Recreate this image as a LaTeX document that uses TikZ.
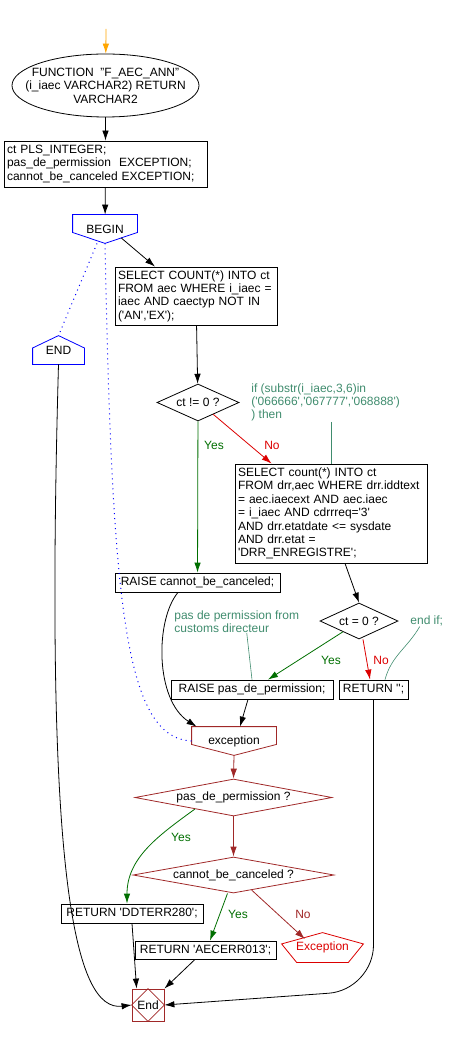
\documentclass[tikz,border=0pt]{standalone}
\usepackage{fontspec}
\setmainfont{Liberation Sans}
\usepackage{tikz}
\usetikzlibrary{shapes.geometric,arrows.meta,calc}

\definecolor{yesgreen}{RGB}{0,110,0}
\definecolor{nored}{RGB}{220,0,0}
\definecolor{exred}{RGB}{160,40,40}
\definecolor{cmtgreen}{RGB}{64,140,110}
\definecolor{startorange}{RGB}{255,165,0}
\newcommand{\q}{\textquotesingle}

% forme disegnate dopo il nodo
\tikzset{
  ovalbox/.style={draw=none, inner sep=0pt, align=center, append after command={\pgfextra{
      \draw (\tikzlastnode.center) ellipse [x radius=93.5pt, y radius=31.5pt];}}},
  pentdown/.style={draw=none, inner sep=0pt, append after command={\pgfextra{
      \draw[#1] (\tikzlastnode.north west) -- (\tikzlastnode.north east)
        -- ($(\tikzlastnode.north east)!0.62!(\tikzlastnode.south east)$)
        -- (\tikzlastnode.south)
        -- ($(\tikzlastnode.north west)!0.62!(\tikzlastnode.south west)$) -- cycle;}}},
  pentup/.style={draw=none, inner sep=0pt, append after command={\pgfextra{
      \draw[#1] (\tikzlastnode.north)
        -- ($(\tikzlastnode.north east)!0.43!(\tikzlastnode.south east)$)
        -- (\tikzlastnode.south east) -- (\tikzlastnode.south west)
        -- ($(\tikzlastnode.north west)!0.43!(\tikzlastnode.south west)$) -- cycle;}}},
  hexbox/.style={draw=none, inner sep=0pt, append after command={\pgfextra{
      \draw[#1] (\tikzlastnode.north)
        -- ($(\tikzlastnode.north east)!0.38!(\tikzlastnode.south east)$)
        -- ([xshift=-15pt]\tikzlastnode.south east) -- ([xshift=15pt]\tikzlastnode.south west)
        -- ($(\tikzlastnode.north west)!0.38!(\tikzlastnode.south west)$) -- cycle;}}},
  endbox/.style={draw=exred, inner sep=0pt, minimum size=32pt, append after command={\pgfextra{
      \draw[exred] (\tikzlastnode.north) -- (\tikzlastnode.east)
        -- (\tikzlastnode.south) -- (\tikzlastnode.west) -- cycle;}}},
}

\begin{document}
\begin{tikzpicture}[x=1pt, y=-1pt, >={Latex[length=10pt,width=6.5pt]}, line width=0.8pt,
    font=\fontsize{12}{13.4}\selectfont]
        % Stili
        \tikzstyle{block} = [draw, rectangle, inner xsep=3pt, inner ysep=2pt, align=left]
        \tikzstyle{line1} = [draw, rectangle, inner sep=0pt, minimum height=19pt]
        \tikzstyle{decision} = [draw, diamond, inner sep=0pt, align=center]
        \tikzstyle{comment} = [color=cmtgreen, inner sep=0pt, align=left]
        \tikzstyle{cmtline} = [draw=cmtgreen, line width=0.6pt]
        \tikzstyle{yeslab} = [color=yesgreen, inner sep=0pt]
        \tikzstyle{nolab} = [color=nored, inner sep=0pt]
        \tikzstyle{dots} = [draw=blue, line width=1pt, dash pattern=on 1pt off 4pt]

        \useasboundingbox (0,0) rectangle (448,1048);

        % Nodi
        \coordinate (start) at (106,29);
        \node [ovalbox, minimum width=187pt, minimum height=63pt] (func) at (105.5,85.5)
            {FUNCTION~~"F\_AEC\_ANN"\\(i\_iaec VARCHAR2) RETURN\\VARCHAR2};
        \node [block, text width=197pt, minimum height=46pt] (decl) at (105.5,164)
            {ct PLS\_INTEGER;\\pas\_de\_permission~~EXCEPTION;\\cannot\_be\_canceled EXCEPTION;};
        \node [pentdown=blue, minimum width=64pt, minimum height=28pt] (begin) at (105,229) {BEGIN};
        \node [pentup=blue, minimum width=51pt, minimum height=28pt] (endtop) at (58.5,350) {END};

        \node [block, text width=156pt, minimum height=58pt] (select1) at (196,296)
            {SELECT COUNT(*) INTO ct\\FROM aec WHERE i\_iaec =\\iaec AND caectyp NOT IN\\(\q AN\q,\q EX\q);};
        \node [decision, aspect=2.4, minimum width=82pt, minimum height=37pt] (ctne) at (198,402.5) {ct != 0 ?};
        \node [block, text width=186pt, minimum height=99pt] (select2) at (331,513.5)
            {SELECT count(*) INTO ct\\FROM drr,aec WHERE drr.iddtext\\= aec.iaecext AND aec.iaec\\= i\_iaec AND cdrrreq=\q 3\q\\AND drr.etatdate <= sysdate\\AND drr.etat =\\\q DRR\_ENREGISTRE\q;};
        \node [decision, aspect=2.2, minimum width=78pt, minimum height=36pt] (cteq) at (359,621) {ct = 0 ?};

        \node [line1, minimum width=165pt] (raisecan) at (197.5,582.5) {RAISE cannot\_be\_canceled;};
        \node [line1, minimum width=162pt] (raisepas) at (252,689.5) {RAISE pas\_de\_permission;};
        \node [line1, minimum width=69pt] (retempty) at (373.5,689.5) {RETURN \q\q;};

        \node [pentdown=exred, minimum width=84pt, minimum height=28pt] (exc) at (234,741) {exception};
        \node [decision, draw=exred, aspect=5.5, minimum width=197pt, minimum height=37pt] (pasdiam) at (233.5,797.5) {pas\_de\_permission ?};
        \node [decision, draw=exred, aspect=5.6, minimum width=201pt, minimum height=36pt] (candiam) at (233.5,875) {cannot\_be\_canceled ?};
        \node [line1, minimum width=142pt] (retddt) at (132,913.5) {RETURN \q DDTERR280\q;};
        \node [line1, minimum width=141pt, minimum height=18pt] (retaec) at (205.5,950) {RETURN \q AECERR013\q;};
        \node [hexbox=nored, text=nored, minimum width=81pt, minimum height=29pt] (excnode) at (322.5,947.5) {Exception};
        \node [endbox] (endnode) at (148,1005) {End};

        % Commenti
        \node [comment, anchor=north west] (cmt1) at (251,383)
            {if (substr(i\_iaec,3,6)in\\(\q 066666\q,\q 067777\q,\q 068888\q)\\) then};
        \node [comment, anchor=north west] (cmt2) at (174,610) {pas de permission from\\customs directeur};
        \node [comment, anchor=west] (cmt3) at (410,621) {end if;};

        % Etichette
        \node [yeslab] (yes1) at (214,445) {Yes};
        \node [nolab] (no1) at (272,445) {No};
        \node [yeslab] (yes2) at (331,660) {Yes};
        \node [nolab] (no2) at (381,660) {No};
        \node [yeslab] (yes3) at (181,837) {Yes};
        \node [yeslab] (yes4) at (238,914) {Yes};
        \node [nolab, color=exred] (no3) at (303,914) {No};

        % Collegamenti
        \draw [->, startorange] (start) -- (func);
        \draw [->] (func) -- (decl);
        \draw [->] (decl) -- (begin);
        \draw [->] ($(begin.south)!0.5!([yshift=11pt]begin.south east)$) -- ([xshift=-41pt]select1.north);
        \draw [dots] ([xshift=-8pt]begin.south) -- (endtop.north);
        \draw [dots] (begin.south) .. controls (112,600) and (124,738) .. (exc.west);

        \draw [->] (select1) -- (ctne);
        \draw [->, yesgreen] (ctne) -- (raisecan);
        \draw [->, nored] ($(ctne.south)!0.37!(ctne.east)$) -- ([xshift=37pt]select2.north west);
        \draw [->] ([xshift=14pt]select2.south) -- (cteq.north);
        \draw [->, yesgreen] ($(cteq.south)!0.41!(cteq.west)$) -- ([xshift=16pt]raisepas.north);
        \draw [->, nored] ([xshift=4pt]cteq.south) -- ([xshift=-3.5pt]retempty.north);

        \draw [->] ([xshift=-19.5pt]raisecan.south) .. controls (155,620) and (155,700) .. ([xshift=5pt]exc.north west);
        \draw [->] ([xshift=-4pt]raisepas.south) -- ([xshift=6pt]exc.north);
        \draw [->, rounded corners=45pt] (retempty.south) -- ($(retempty.south |- endnode.east)+(0,-15)$) -- (endnode.east);
        \draw [->] (endtop.south) .. controls (44,880) and (75,1012) .. (endnode.west);

        \draw [->, exred] (exc.south) -- (pasdiam.north);
        \draw [->, exred] (pasdiam) -- (candiam);
        \draw [->, yesgreen] ($(pasdiam.south)!0.39!(pasdiam.west)$) to[out=216, in=90] ([xshift=-5pt]retddt.north);
        \draw [->, yesgreen] ([xshift=-6pt]candiam.south) -- ([xshift=4.5pt]retaec.north);
        \draw [->, exred] ($(candiam.south)!0.18!(candiam.east)$) -- ($(excnode.north)!0.43!(excnode.west)$);
        \draw [->] (retddt.south) -- ([xshift=5pt]endnode.north west);
        \draw [->] ([xshift=-10.5pt]retaec.south) -- (endnode.north east);

        \draw [cmtline] (cmt1.south -| select2.north) -- (select2.north);
        \draw [cmtline] ([xshift=10pt]cmt2.south) -- (raisepas.north);
        \draw [cmtline] ([xshift=-7pt]cmt3.south) to[out=-120, in=75] ([xshift=11.5pt]retempty.north);

    \end{tikzpicture}
\end{document}
